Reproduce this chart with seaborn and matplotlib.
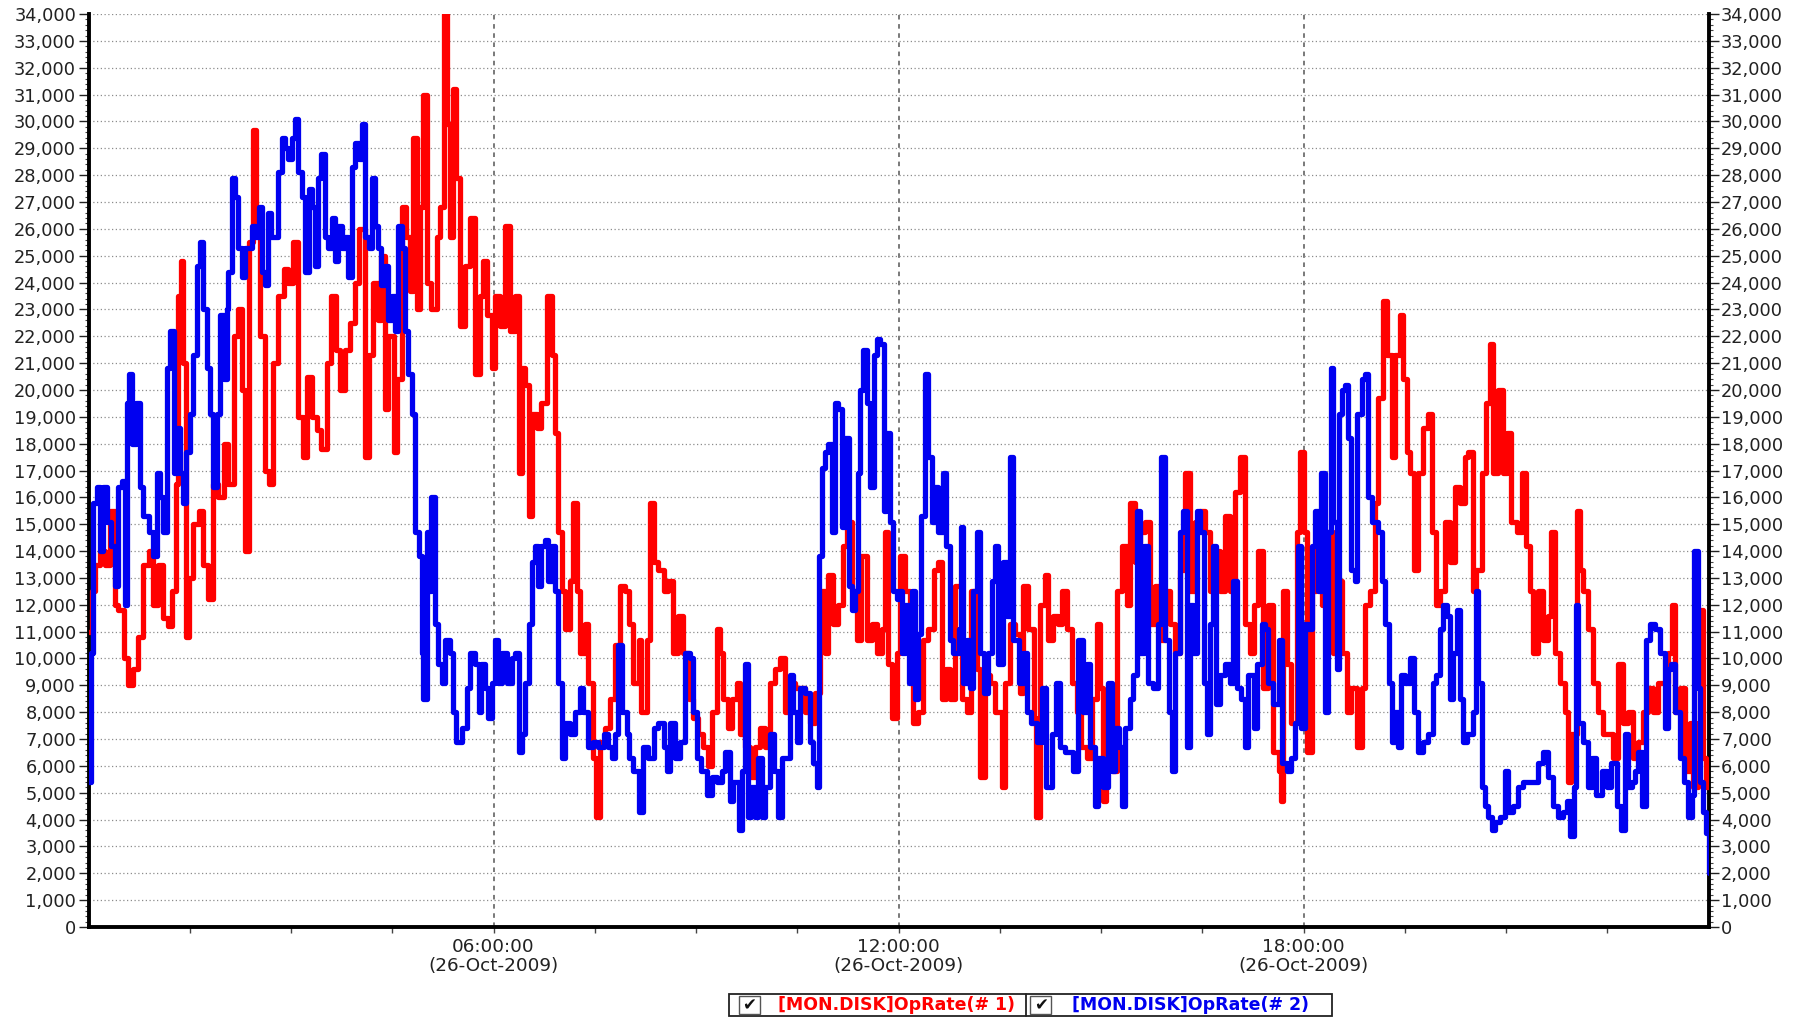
import numpy as np
import pandas as pd
import matplotlib
matplotlib.use("Agg")
import matplotlib.pyplot as plt
from matplotlib.patches import Rectangle
from matplotlib.lines import Line2D
from matplotlib.ticker import FixedLocator, MultipleLocator, FuncFormatter
import seaborn as sns

# ---------------------------------------------------------------------------
# Disk operation rate samples for 26-Oct-2009 (hours since midnight, kOps/s)
# ---------------------------------------------------------------------------
disk1_hours = [
    0.00, 0.05, 0.10, 0.17, 0.24, 0.32, 0.39, 0.44, 0.52, 0.59,
    0.66, 0.74, 0.81, 0.89, 0.96, 1.03, 1.11, 1.18, 1.24, 1.29,
    1.33, 1.37, 1.40, 1.44, 1.49, 1.55, 1.63, 1.70, 1.77, 1.85,
    1.92, 2.00, 2.07, 2.15, 2.22, 2.27, 2.32, 2.37, 2.43, 2.48,
    2.54, 2.61, 2.67, 2.74, 2.81, 2.89, 2.96, 3.03, 3.11, 3.17,
    3.23, 3.31, 3.38, 3.45, 3.53, 3.59, 3.66, 3.73, 3.80, 3.87,
    3.95,
    4.00, 4.10, 4.15, 4.22, 4.29, 4.34, 4.39, 4.44, 4.52, 4.57,
    4.64, 4.71, 4.76, 4.81, 4.86, 4.91, 4.96, 5.01, 5.08, 5.16,
    5.21, 5.26, 5.31, 5.36, 5.40, 5.45, 5.50, 5.58, 5.65, 5.73,
    5.80, 5.85, 5.90, 5.97, 6.02, 6.10, 6.17, 6.24, 6.32, 6.37,
    6.42, 6.47, 6.52, 6.57, 6.64, 6.71, 6.79, 6.86, 6.91, 6.96,
    7.01, 7.06, 7.13, 7.18, 7.23, 7.28, 7.36, 7.40, 7.48, 7.52,
    7.58, 7.65, 7.73, 7.80, 7.87, 7.95,
    8.00, 8.07, 8.15, 8.19, 8.27, 8.32, 8.37, 8.44, 8.52, 8.59,
    8.66, 8.74, 8.81, 8.89, 8.96, 9.03, 9.11, 9.18, 9.24, 9.31,
    9.36, 9.40, 9.48, 9.53, 9.60, 9.65, 9.73, 9.80, 9.87, 9.95,
    10.02, 10.10, 10.17, 10.24, 10.32, 10.39, 10.47, 10.54, 10.61, 10.69,
    10.76, 10.84, 10.91, 10.96, 11.03, 11.11, 11.18, 11.23, 11.31, 11.38,
    11.45, 11.53, 11.60, 11.68, 11.75, 11.80, 11.85, 11.90, 11.97,
    12.02, 12.10, 12.17, 12.22, 12.29, 12.37, 12.44, 12.52, 12.59, 12.64,
    12.71, 12.76, 12.84, 12.94, 13.01, 13.08, 13.16, 13.21, 13.28, 13.36,
    13.43, 13.53, 13.58, 13.65, 13.73, 13.80, 13.85, 13.92, 14.00, 14.04,
    14.10, 14.17, 14.22, 14.29, 14.37, 14.42, 14.49, 14.57, 14.64, 14.71,
    14.79, 14.86, 14.94, 14.98, 15.03, 15.08, 15.16, 15.23, 15.31, 15.38,
    15.43, 15.50, 15.58, 15.65, 15.73, 15.80, 15.87, 15.95,
    16.02, 16.10, 16.17, 16.24, 16.32, 16.39, 16.47, 16.54, 16.61, 16.69,
    16.76, 16.84, 16.91, 16.98, 17.06, 17.13, 17.21, 17.26, 17.33, 17.40,
    17.48, 17.55, 17.63, 17.67, 17.70, 17.75, 17.82, 17.90, 17.95, 18.00,
    18.05, 18.12, 18.19, 18.27, 18.37, 18.44, 18.52, 18.57, 18.64, 18.71,
    18.79, 18.86, 18.91, 18.98, 19.06, 19.11, 19.18, 19.23, 19.31, 19.36,
    19.43, 19.48, 19.53, 19.58, 19.63, 19.70, 19.77, 19.85, 19.90, 19.97,
    20.02, 20.09, 20.17, 20.24, 20.32, 20.39, 20.44, 20.51, 20.56, 20.64,
    20.71, 20.76, 20.81, 20.88, 20.96, 21.01, 21.08, 21.16, 21.23, 21.30,
    21.35, 21.40, 21.48, 21.55, 21.62, 21.67, 21.72, 21.80, 21.87, 21.92,
    21.97, 22.05, 22.09, 22.14, 22.22, 22.29, 22.37, 22.44, 22.51, 22.59,
    22.66, 22.74, 22.81, 22.88, 22.96, 23.03, 23.11, 23.18, 23.25, 23.33,
    23.40, 23.46, 23.50, 23.58, 23.65, 23.72, 23.77, 23.85, 23.88, 23.92,
    23.97, 24.00,
]
disk1_kops = [
    11.0, 12.5, 13.5, 14.0, 13.5, 15.5, 12.0, 11.8, 10.0, 9.0,
    9.6, 10.8, 13.5, 14.0, 12.0, 13.5, 11.5, 11.2, 12.5, 16.5,
    23.5, 24.8, 21.0, 10.8, 13.0, 15.0, 15.5, 13.5, 12.2, 16.5,
    16.0, 18.0, 16.5, 22.0, 23.0, 20.0, 14.0, 25.5, 29.7, 26.0,
    22.0, 17.0, 16.5, 21.0, 23.5, 24.5, 24.0, 25.5, 19.0, 17.5,
    20.5, 19.0, 18.5, 17.8, 21.0, 23.5, 21.5, 20.0, 21.5, 22.5,
    24.0,
    26.0, 17.5, 21.3, 24.0, 22.6, 25.0, 19.3, 22.0, 17.7, 20.4,
    26.8, 25.7, 23.7, 29.4, 23.0, 26.8, 31.0, 24.0, 23.0, 25.7,
    26.8, 34.0, 29.9, 25.7, 31.2, 27.9, 22.4, 24.6, 26.4, 20.6,
    23.5, 24.8, 22.8, 20.8, 23.5, 22.4, 26.1, 22.2, 23.5, 16.9,
    20.8, 20.2, 15.3, 19.1, 18.6, 19.5, 23.5, 21.3, 18.4, 14.7,
    12.5, 11.1, 12.9, 15.8, 12.5, 10.2, 11.3, 9.1, 6.3, 4.1,
    6.9, 7.4, 8.5, 10.5, 12.7, 12.5,
    11.3, 9.1, 10.7, 8.0, 10.7, 15.8, 13.6, 13.3, 12.5, 12.9,
    10.2, 11.6, 10.2, 8.5, 7.8, 7.2, 6.7, 6.0, 8.0, 11.1,
    10.2, 8.5, 7.4, 8.5, 9.1, 7.2, 6.7, 5.6, 6.7, 7.4,
    6.7, 9.1, 9.6, 10.0, 8.0, 9.1, 8.9, 8.9, 8.0, 7.6,
    8.7, 12.5, 10.2, 13.1, 11.3, 12.0, 14.2, 15.1, 12.5, 10.7,
    13.8, 10.7, 11.3, 10.2, 11.1, 14.7, 9.8, 7.8, 10.2,
    13.8, 12.5, 10.2, 7.6, 8.0, 10.7, 11.1, 13.3, 13.6, 8.5,
    9.6, 8.5, 12.7, 8.5, 8.0, 12.5, 9.6, 5.6, 9.4, 9.1,
    8.0, 5.2, 9.1, 11.3, 10.9, 8.7, 12.7, 11.1, 7.8, 4.1,
    12.0, 13.1, 10.7, 11.6, 11.3, 12.5, 11.1, 9.1, 8.0, 6.7,
    6.3, 8.5, 11.3, 8.9, 4.7, 8.0, 5.8, 12.5, 14.2, 12.0,
    15.8, 13.6, 14.7, 15.1, 11.3, 12.7, 10.7, 12.5,
    11.3, 10.2, 13.3, 16.9, 12.5, 15.1, 15.5, 14.7, 12.5, 14.0,
    12.5, 15.3, 12.5, 16.2, 17.5, 11.3, 10.2, 12.0, 14.0, 8.9,
    12.0, 6.5, 5.8, 4.7, 12.5, 9.8, 7.6, 14.7, 17.7, 14.7,
    6.5, 12.5, 14.7, 12.0, 14.7, 10.2, 12.9, 10.2, 8.0, 8.9,
    6.7, 8.9, 12.0, 12.5, 15.8, 19.7, 23.3, 21.3, 17.5, 21.3,
    22.8, 20.4, 17.7, 16.9, 13.3, 16.9, 18.6, 19.1, 14.7, 12.0,
    12.5, 15.1, 13.6, 16.4, 15.8, 17.5, 17.7, 12.5, 13.3, 16.9,
    19.5, 21.7, 16.9, 20.0, 16.9, 18.4, 15.1, 14.7, 16.9, 14.2,
    12.5, 10.2, 12.5, 10.7, 11.6, 14.7, 10.2, 9.1, 8.0, 5.4,
    7.2, 15.5, 13.3, 12.5, 11.1, 9.1, 8.0, 7.2, 7.2, 6.3,
    9.8, 7.6, 8.0, 6.3, 6.9, 8.0, 8.9, 8.0, 9.1, 9.1,
    10.2, 12.0, 8.0, 8.9, 5.8, 7.6, 5.2, 7.6, 11.8, 6.3,
    5.2, 5.5,
]

disk2_hours = [
    0.00, 0.04, 0.07, 0.12, 0.17, 0.22, 0.27, 0.34, 0.39, 0.44,
    0.49, 0.54, 0.57, 0.60, 0.64, 0.71, 0.76, 0.81, 0.89, 0.96,
    1.01, 1.06, 1.11, 1.16, 1.21, 1.26, 1.31, 1.36, 1.40, 1.45,
    1.50, 1.55, 1.60, 1.65, 1.70, 1.75, 1.80, 1.85, 1.90, 1.95,
    2.00, 2.05, 2.07, 2.12, 2.17, 2.22, 2.27, 2.32, 2.37, 2.42,
    2.47, 2.52, 2.57, 2.61, 2.66, 2.71, 2.76, 2.81, 2.86, 2.91,
    2.96, 3.01, 3.06, 3.11, 3.16, 3.21, 3.26, 3.31, 3.36, 3.40,
    3.45, 3.50, 3.55, 3.60, 3.65, 3.70, 3.75, 3.80, 3.85, 3.90,
    3.95, 4.00, 4.05,
    4.10, 4.15, 4.20, 4.24, 4.29, 4.34, 4.39, 4.44, 4.49, 4.54,
    4.59, 4.64, 4.69, 4.74, 4.79, 4.84, 4.89, 4.94, 4.96, 5.01,
    5.06, 5.08, 5.13, 5.18, 5.23, 5.28, 5.36, 5.40, 5.45, 5.53,
    5.60, 5.65, 5.73, 5.78, 5.82, 5.87, 5.92, 5.97, 6.02, 6.07,
    6.12, 6.20, 6.27, 6.32, 6.37, 6.42, 6.47, 6.52, 6.57, 6.61,
    6.66, 6.71, 6.76, 6.81, 6.86, 6.91, 6.96, 7.01, 7.06, 7.13,
    7.21, 7.28, 7.33, 7.40, 7.48, 7.55, 7.63, 7.70, 7.75, 7.80,
    7.85, 7.90, 7.97,
    8.00, 8.07, 8.15, 8.22, 8.29, 8.37, 8.44, 8.52, 8.57, 8.61,
    8.69, 8.76, 8.84, 8.91, 8.96, 9.01, 9.08, 9.16, 9.23, 9.31,
    9.38, 9.43, 9.50, 9.55, 9.63, 9.68, 9.73, 9.77, 9.82, 9.87,
    9.92, 9.97, 10.02, 10.10, 10.15, 10.22, 10.27, 10.34, 10.39, 10.44,
    10.49, 10.54, 10.61, 10.69, 10.74, 10.79, 10.82, 10.87, 10.91, 10.96,
    11.01, 11.06, 11.11, 11.16, 11.21, 11.26, 11.31, 11.36, 11.40, 11.43,
    11.48, 11.53, 11.58, 11.63, 11.68, 11.73, 11.78, 11.82, 11.87, 11.92,
    11.97,
    12.00, 12.05, 12.10, 12.15, 12.20, 12.24, 12.29, 12.34, 12.39, 12.44,
    12.49, 12.54, 12.59, 12.66, 12.71, 12.76, 12.81, 12.89, 12.93, 12.96,
    13.01, 13.06, 13.11, 13.16, 13.21, 13.26, 13.33, 13.38, 13.43, 13.48,
    13.55, 13.60, 13.65, 13.70, 13.78, 13.85, 13.90, 13.97, 14.05, 14.12,
    14.19, 14.27, 14.34, 14.39, 14.47, 14.54, 14.59, 14.66, 14.74, 14.79,
    14.84, 14.91, 14.96, 15.03, 15.11, 15.16, 15.21, 15.26, 15.31, 15.36,
    15.43, 15.48, 15.53, 15.58, 15.63, 15.70, 15.77, 15.85, 15.89, 15.95,
    16.00, 16.05, 16.10, 16.17, 16.22, 16.27, 16.32, 16.37, 16.42, 16.47,
    16.52, 16.57, 16.61, 16.66, 16.71, 16.76, 16.84, 16.91, 16.96, 17.01,
    17.08, 17.13, 17.18, 17.26, 17.31, 17.38, 17.43, 17.48, 17.55, 17.63,
    17.68, 17.75, 17.82, 17.87, 17.92, 17.97, 18.02, 18.07, 18.12, 18.17,
    18.22, 18.26, 18.32, 18.37, 18.40, 18.44, 18.49, 18.52, 18.57, 18.61,
    18.66, 18.71, 18.76, 18.79, 18.86, 18.91, 18.96, 19.01, 19.06, 19.11,
    19.16, 19.21, 19.26, 19.31, 19.36, 19.40, 19.45, 19.50, 19.58, 19.63,
    19.70, 19.77, 19.85, 19.92, 19.97,
    20.02, 20.07, 20.12, 20.17, 20.22, 20.27, 20.32, 20.37, 20.42, 20.46,
    20.51, 20.55, 20.59, 20.64, 20.69, 20.74, 20.79, 20.83, 20.91, 20.98,
    21.03, 21.11, 21.18, 21.25, 21.33, 21.40, 21.48, 21.55, 21.62, 21.70,
    21.77, 21.85, 21.90, 21.95, 22.00, 22.03, 22.07, 22.14, 22.22, 22.27,
    22.34, 22.42, 22.49, 22.56, 22.64, 22.71, 22.76, 22.81, 22.86, 22.91,
    22.96, 23.01, 23.07, 23.13, 23.21, 23.28, 23.35, 23.40, 23.45, 23.50,
    23.58, 23.63, 23.69, 23.75, 23.79, 23.84, 23.87, 23.92, 23.97, 24.00,
]
disk2_kops = [
    5.4, 10.2, 15.8, 16.4, 14.0, 16.4, 15.1, 14.2, 12.7, 16.4,
    16.6, 12.0, 19.5, 20.6, 18.0, 19.5, 16.4, 15.3, 14.7, 13.8,
    16.9, 16.0, 14.7, 20.8, 22.2, 16.9, 18.6, 16.9, 15.8, 17.7,
    19.1, 21.3, 24.6, 25.5, 23.0, 20.8, 19.1, 16.4, 19.1, 22.8,
    20.4, 23.0, 24.4, 27.9, 27.2, 25.3, 24.2, 25.3, 25.3, 26.1,
    25.7, 26.8, 24.4, 23.9, 26.6, 25.7, 25.7, 28.1, 29.4, 29.0,
    28.6, 29.4, 30.1, 28.1, 27.2, 24.4, 27.5, 26.8, 24.6, 27.9,
    28.8, 25.7, 25.3, 26.4, 24.8, 26.1, 25.3, 25.7, 24.2, 28.3,
    29.2, 28.6, 29.9,
    25.7, 25.3, 27.9, 26.1, 25.3, 23.9, 24.6, 22.6, 23.5, 22.2,
    26.1, 25.3, 22.2, 20.6, 19.1, 14.7, 13.8, 10.2, 8.5, 14.7,
    12.5, 16.0, 11.3, 9.8, 9.1, 10.7, 10.2, 8.0, 6.9, 7.4,
    8.9, 10.2, 9.8, 8.0, 9.8, 8.9, 7.8, 9.1, 10.7, 9.1,
    10.2, 9.1, 10.0, 10.2, 6.5, 7.2, 9.1, 11.3, 13.6, 14.2,
    12.7, 14.2, 14.4, 12.9, 14.2, 12.5, 9.1, 6.3, 7.6, 7.2,
    8.0, 8.9, 8.0, 6.7, 6.9, 6.7, 7.2, 6.7, 6.3, 7.2,
    10.5, 8.0, 7.2,
    6.3, 5.8, 4.3, 6.7, 6.3, 7.4, 7.6, 6.7, 5.8, 7.6,
    6.3, 6.9, 10.2, 10.0, 8.0, 6.3, 5.8, 4.9, 5.6, 5.4,
    5.8, 6.5, 4.7, 5.4, 3.6, 5.8, 9.8, 4.1, 5.2, 4.1,
    6.3, 4.1, 5.2, 7.2, 5.8, 4.1, 6.3, 6.3, 9.4, 8.0,
    6.9, 8.9, 8.7, 6.9, 6.1, 5.2, 13.8, 17.1, 17.7, 18.0,
    14.7, 19.5, 19.3, 14.9, 18.2, 12.7, 11.8, 12.5, 16.9, 20.0,
    21.5, 19.5, 16.4, 21.3, 21.9, 21.7, 15.5, 18.4, 15.1, 12.5,
    12.2,
    12.5, 10.2, 12.0, 9.1, 12.5, 8.5, 10.9, 15.3, 20.6, 17.5,
    15.1, 16.4, 14.7, 16.9, 14.2, 10.7, 10.2, 11.1, 14.9, 9.1,
    10.7, 8.9, 12.5, 14.7, 10.2, 8.7, 10.2, 12.9, 14.2, 9.8,
    13.6, 11.6, 17.5, 10.7, 9.1, 10.2, 8.0, 7.6, 6.9, 8.9,
    5.2, 7.2, 9.1, 6.7, 6.5, 6.5, 5.8, 10.7, 8.0, 9.8,
    6.7, 4.5, 6.3, 5.2, 9.1, 5.8, 7.4, 6.7, 4.5, 7.4,
    8.5, 9.4, 15.5, 10.2, 14.2, 9.1, 8.9, 11.3, 17.5, 10.7,
    8.0, 5.8, 10.2, 14.7, 15.5, 6.7, 12.0, 10.2, 15.5, 14.7,
    9.1, 7.2, 11.3, 14.2, 8.3, 9.4, 9.8, 9.1, 12.9, 8.9,
    8.5, 6.7, 9.4, 7.4, 9.8, 11.3, 11.1, 9.1, 8.3, 10.7,
    6.1, 5.8, 6.3, 7.6, 14.2, 7.4, 11.3, 11.1, 14.2, 15.5,
    12.5, 16.9, 8.0, 14.7, 20.8, 15.1, 9.6, 19.1, 20.0, 20.2,
    18.2, 13.3, 12.9, 19.1, 20.4, 20.6, 16.0, 15.1, 15.1, 14.7,
    12.9, 11.3, 9.1, 6.9, 8.0, 6.7, 9.4, 9.1, 10.0, 8.0,
    6.5, 6.9, 7.2, 9.1, 9.4,
    11.1, 12.0, 11.6, 8.5, 10.2, 11.8, 8.5, 6.9, 7.2, 7.2,
    8.0, 12.5, 9.1, 5.2, 4.5, 4.1, 3.6, 3.9, 4.1, 5.8,
    4.3, 4.5, 5.2, 5.4, 5.4, 5.4, 6.1, 6.5, 5.6, 4.5,
    4.1, 4.3, 4.7, 3.4, 5.2, 12.0, 7.6, 6.9, 5.2, 6.3,
    4.9, 5.8, 5.2, 6.1, 4.5, 3.6, 7.2, 5.2, 5.4, 5.8,
    6.5, 4.5, 10.7, 11.3, 11.1, 10.2, 7.4, 9.6, 9.8, 8.0,
    6.3, 5.4, 4.1, 4.9, 14.0, 8.9, 5.4, 4.3, 3.5, 2.0,
]

series_names = ["[MON.DISK]OpRate(# 1)", "[MON.DISK]OpRate(# 2)"]
series_colors = ["#ff0000", "#0000f0"]
major_hours = [6, 12, 18]
major_labels = ["06:00:00\n(26-Oct-2009)", "12:00:00\n(26-Oct-2009)", "18:00:00\n(26-Oct-2009)"]

assert len(disk1_hours) == len(disk1_kops), (len(disk1_hours), len(disk1_kops))
assert len(disk2_hours) == len(disk2_kops), (len(disk2_hours), len(disk2_kops))

frames = []
for name, hrs, kops in [(series_names[0], disk1_hours, disk1_kops),
                        (series_names[1], disk2_hours, disk2_kops)]:
    frames.append(pd.DataFrame({"hour": hrs,
                                "ops": np.asarray(kops) * 1000.0,
                                "series": name}))
df = pd.concat(frames, ignore_index=True)

# ---------------------------------------------------------------------------
# Figure
# ---------------------------------------------------------------------------
sns.set_theme(style="white")
plt.rcParams["font.family"] = ["DejaVu Sans"]

fig = plt.figure(figsize=(18.03, 10.19), dpi=100)
fig.patch.set_facecolor("white")
ax = fig.add_axes([0.0491, 0.0903, 0.8985, 0.8959])

sns.lineplot(data=df, x="hour", y="ops", hue="series",
             hue_order=series_names,
             palette=dict(zip(series_names, series_colors)),
             estimator=None, sort=False, drawstyle="steps-post",
             linewidth=3.8, legend=False, ax=ax, zorder=3)

ax.set_xlim(0, 24)
ax.set_ylim(0, 34000)
ax.set_xlabel("")
ax.set_ylabel("")

# y axis: labels on both sides
ax.yaxis.set_major_locator(MultipleLocator(1000))
ax.yaxis.set_minor_locator(MultipleLocator(200))
ax.yaxis.set_major_formatter(FuncFormatter(lambda v, p: f"{v:,.0f}"))
ax.tick_params(axis="y", which="major", left=True, right=True,
               labelleft=True, labelright=True, direction="out",
               length=7, width=1.0, color="#222222", pad=2,
               labelsize=12.8, labelcolor="#222222")
ax.tick_params(axis="y", which="minor", left=True, right=True,
               direction="out", length=3, width=0.8, color="#444444")

# x axis: time of day
ax.xaxis.set_major_locator(FixedLocator(major_hours))
ax.xaxis.set_minor_locator(FixedLocator([1.5, 3, 4.5, 7.5, 9, 10.5, 13.5, 15, 16.5, 19.5, 21, 22.5]))
ax.set_xticklabels(major_labels)
ax.tick_params(axis="x", which="both", bottom=True, direction="out",
               length=4, width=1.0, color="#444444", pad=4,
               labelsize=13.2, labelcolor="#222222")
for lbl in ax.get_xticklabels():
    lbl.set_linespacing(1.05)

# grid
ax.set_axisbelow(True)
ax.yaxis.grid(True, which="major", linestyle=(0, (1, 2)), color="#8c8c8c", linewidth=0.9)
ax.xaxis.grid(True, which="major", linestyle=(0, (3, 3)), color="#555555", linewidth=1.1)

for side in ["left", "right", "bottom"]:
    ax.spines[side].set_visible(True)
    ax.spines[side].set_color("black")
    ax.spines[side].set_linewidth(2.8)
ax.spines["top"].set_visible(False)

# ---------------------------------------------------------------------------
# Legend strip with check boxes
# ---------------------------------------------------------------------------
box_x0, box_x1, box_y0, box_y1 = 0.4043, 0.7387, 0.0025, 0.0245
divider_x = 0.5690
fig.patches.append(Rectangle((box_x0, box_y0), box_x1 - box_x0, box_y1 - box_y0,
                             transform=fig.transFigure, facecolor="white",
                             edgecolor="#222222", linewidth=1.3, zorder=1))
fig.lines.append(Line2D([divider_x, divider_x], [box_y0, box_y1],
                        transform=fig.transFigure, color="#222222", linewidth=1.3))

yc = (box_y0 + box_y1) / 2
for cb_x, txt_x, name, color in [(0.4100, 0.4315, series_names[0], series_colors[0]),
                                 (0.5715, 0.5946, series_names[1], series_colors[1])]:
    fig.patches.append(Rectangle((cb_x, yc - 0.0088), 0.0115, 0.0176,
                                 transform=fig.transFigure, facecolor="white",
                                 edgecolor="#555555", linewidth=1.0, zorder=2))
    fig.text(cb_x + 0.0057, yc, "\u2714", ha="center", va="center",
             fontsize=12, color="#111111")
    fig.text(txt_x, yc, name, ha="left", va="center", fontsize=12.5,
             fontweight="bold", color=color)

fig.savefig("out.png", dpi=100, facecolor="white")
